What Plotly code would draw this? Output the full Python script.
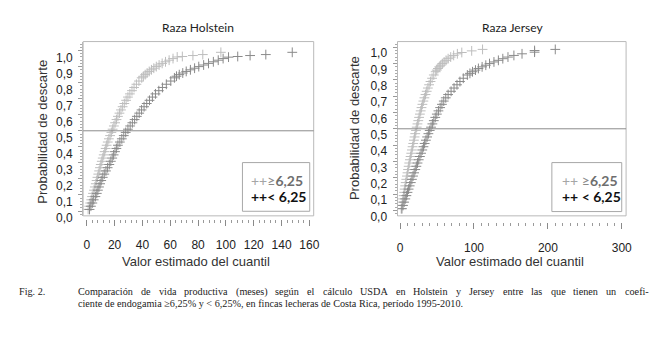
import plotly.graph_objects as go

W, H = 668, 341

# ---------------- data ----------------
# Raza Holstein, consanguinidad >= 6,25 %  (light grey)
hol_hi_x = [1.0, 1.8, 2.5, 3.2, 3.8, 4.5, 5.2, 5.8, 6.5, 7.1, 7.7, 8.3, 8.9, 9.5, 10.1,
            10.8, 11.5, 12.2, 12.9, 13.6, 14.3, 15.1, 15.9, 16.8, 17.7, 18.6, 19.5, 20.4,
            21.4, 22.4, 23.5, 24.6, 25.8, 27.0, 28.3, 29.6, 31.0, 32.5, 34.0, 35.7, 37.5,
            39.5, 40.7, 42.0, 43.4, 44.9, 46.5, 48.2, 50.0, 52.0, 54.2, 56.6, 59.2, 62.0,
            65.0, 68.7, 76.3, 83.4, 96.4]
hol_hi_y = [0.01, 0.03, 0.05, 0.07, 0.09, 0.11, 0.13, 0.15, 0.17, 0.19, 0.21, 0.23, 0.25,
            0.27, 0.29, 0.31, 0.33, 0.35, 0.37, 0.39, 0.41, 0.43, 0.45, 0.47, 0.49, 0.51,
            0.53, 0.55, 0.57, 0.59, 0.61, 0.63, 0.65, 0.67, 0.69, 0.71, 0.73, 0.75, 0.77,
            0.79, 0.81, 0.83, 0.84, 0.85, 0.86, 0.87, 0.88, 0.89, 0.90, 0.91, 0.92, 0.93,
            0.94, 0.95, 0.96, 0.963, 0.969, 0.975, 0.989]

# Raza Holstein, consanguinidad < 6,25 %  (dark grey)
hol_lo_x = [2.0, 3.0, 4.0, 5.0, 6.2, 7.2, 8.0, 8.8, 9.6, 10.4, 11.5, 12.6, 13.8, 15.0,
            16.2, 17.3, 18.3, 19.3, 20.3, 21.3, 22.4, 23.8, 25.2, 26.6, 28.0, 29.6, 31.2,
            32.8, 34.4, 36.0, 37.7, 39.4, 41.2, 43.1, 45.1, 47.2, 49.4, 51.8, 54.4, 57.2,
            60.4, 63.0, 64.5, 66.5, 69.0, 71.5, 74.5, 77.5, 80.5, 84.0, 87.5, 91.0, 94.5,
            98.0, 101.9, 108.5, 117.4, 128.7, 147.7]
hol_lo_y = [0.01, 0.03, 0.05, 0.07, 0.09, 0.11, 0.13, 0.15, 0.17, 0.19, 0.21, 0.23, 0.25,
            0.27, 0.29, 0.31, 0.33, 0.35, 0.37, 0.39, 0.41, 0.43, 0.45, 0.47, 0.49, 0.51,
            0.53, 0.55, 0.57, 0.59, 0.61, 0.63, 0.65, 0.67, 0.69, 0.71, 0.73, 0.75, 0.77,
            0.79, 0.81, 0.83, 0.84, 0.85, 0.86, 0.87, 0.88, 0.89, 0.90, 0.91, 0.92, 0.93,
            0.94, 0.95, 0.959, 0.963, 0.969, 0.975, 0.989]

# Raza Jersey, consanguinidad >= 6,25 %  (light grey)
jer_hi_x = [1.5, 2.5, 3.3, 4.0, 4.8, 5.5, 6.2, 6.9, 7.6, 8.4, 9.2, 10.0, 10.8, 11.6, 12.4,
            13.3, 14.2, 15.1, 16.0, 16.9, 17.8, 18.7, 19.6, 20.5, 21.5, 22.5, 23.5, 24.6,
            25.7, 26.8, 27.9, 29.0, 30.2, 31.5, 32.9, 34.4, 36.0, 37.6, 39.3, 41.2, 43.3,
            45.6, 48.2, 49.6, 51.2, 53.0, 55.0, 57.2, 59.6, 62.2, 65.0, 68.5, 72.5, 77.5,
            83.5, 96.9, 111.6]
jer_hi_y = [0.01, 0.03, 0.05, 0.07, 0.09, 0.11, 0.13, 0.15, 0.17, 0.19, 0.21, 0.23, 0.25,
            0.27, 0.29, 0.31, 0.33, 0.35, 0.37, 0.39, 0.41, 0.43, 0.45, 0.47, 0.49, 0.51,
            0.53, 0.55, 0.57, 0.59, 0.61, 0.63, 0.65, 0.67, 0.69, 0.71, 0.73, 0.75, 0.77,
            0.79, 0.81, 0.83, 0.85, 0.86, 0.87, 0.88, 0.89, 0.90, 0.91, 0.92, 0.93, 0.94,
            0.95, 0.96, 0.968, 0.978, 0.987]

# Raza Jersey, consanguinidad < 6,25 %  (dark grey)
jer_lo_x = [2.5, 4.0, 5.5, 7.0, 8.5, 10.0, 11.5, 13.0, 14.5, 16.0, 17.5, 19.0, 20.5, 22.0,
            23.6, 25.2, 26.8, 28.4, 30.0, 31.6, 33.2, 34.9, 36.6, 38.3, 40.1, 41.9, 43.7,
            45.6, 47.6, 49.7, 51.9, 54.2, 56.6, 59.1, 61.8, 65.0, 69.0, 73.0, 77.0, 81.0,
            85.5, 91.0, 94.5, 98.0, 102.0, 106.0, 111.0, 116.0, 121.0, 127.0, 133.0, 139.0,
            146.0, 154.0, 165.0, 182.0, 182.0, 210.0]
jer_lo_y = [0.01, 0.03, 0.05, 0.07, 0.09, 0.11, 0.13, 0.15, 0.17, 0.19, 0.21, 0.23, 0.25,
            0.27, 0.29, 0.31, 0.33, 0.35, 0.37, 0.39, 0.41, 0.43, 0.45, 0.47, 0.49, 0.51,
            0.53, 0.55, 0.57, 0.59, 0.61, 0.63, 0.65, 0.67, 0.69, 0.71, 0.73, 0.75, 0.77,
            0.79, 0.81, 0.83, 0.84, 0.85, 0.86, 0.87, 0.88, 0.89, 0.90, 0.91, 0.92, 0.93,
            0.94, 0.95, 0.96, 0.97, 0.98, 0.987]

cut_value = 0.5
titles = ["Raza Holstein", "Raza Jersey"]
x_title = "Valor estimado del cuantil"
y_title = "Probabilidad de descarte"
left_xticks = [0, 20, 40, 60, 80, 100, 120, 140, 160]
right_xticks = [0, 100, 200, 300]
y_ticks = [0.0, 0.1, 0.2, 0.3, 0.4, 0.5, 0.6, 0.7, 0.8, 0.9, 1.0]
caption_label = "Fig. 2."
caption_line1 = ("Comparación de vida productiva (meses) según el cálculo USDA en Holstein "
                 "y Jersey entre las que tienen un coefi-")
caption_line2 = ("ciente de endogamia ≥6,25% y < 6,25%, en fincas lecheras de Costa Rica, "
                 "período 1995-2010.")

# ---------------- styling ----------------
LIGHT = "#bdbdbd"
DARK = "#8a8a8a"
FRAME = "#b9b9b9"
SANS = "Liberation Sans, Arial, sans-serif"
CAL = "Lato, Open Sans, sans-serif"
SERIF = "Liberation Serif, Times New Roman, serif"
CAP_SIZE = 10.2


def px(x):
    return x / W


def py(y):
    return 1 - y / H


# approximate Times advance widths (per 1000 em) used to justify caption line 1
_TW = dict(zip("abcdefghijklmnopqrstuvwxyz",
               [444, 500, 444, 500, 444, 333, 500, 500, 278, 278, 500, 278, 778, 500, 500,
                500, 500, 333, 389, 278, 500, 500, 722, 500, 500, 444]))
_TW.update({"á": 444, "é": 444, "í": 278, "ó": 500, "ú": 500, "C": 667, "D": 722,
            "H": 722, "J": 389, "S": 556, "U": 722, "A": 722, "(": 333, ")": 333,
            "-": 333, ",": 250, ".": 250, " ": 250})


def text_w(s, size):
    return sum(_TW.get(c, 500) for c in s) * size / 1000.0


panels = [
    dict(xd=[83, 316], yd=[42.7, 221.7], xr=[-2.6, 163.1], yr=[-0.030, 1.056],
         xpos=225, ticks=left_xticks, minor=4, title_x=199.3, ytit_x=41.7, ytit_y=135,
         leg=[244, 167, 312, 217], leg_x=250.5, lshift=7),
    dict(xd=[400.7, 631.7], yd=[42.7, 221.7], xr=[-3.5, 305.8], yr=[-0.034, 1.035],
         xpos=228, ticks=right_xticks, minor=10, title_x=516.7, ytit_x=357.3, ytit_y=132,
         leg=[556.7, 167, 627.3, 217.3], leg_x=564.5, lshift=6),
]

series = [((hol_hi_x, hol_hi_y), (hol_lo_x, hol_lo_y)),
          ((jer_hi_x, jer_hi_y), (jer_lo_x, jer_lo_y))]

fig = go.Figure()
shapes = []
annotations = []
layout_axes = {}

for i, (p, (hi, lo)) in enumerate(zip(panels, series)):
    sfx = "" if i == 0 else str(i + 1)
    xa, ya = "x" + sfx, "y" + sfx
    for (xs, ys), col in ((hi, LIGHT), (lo, DARK)):
        fig.add_trace(go.Scatter(
            x=xs, y=ys, xaxis=xa, yaxis=ya, mode="markers", showlegend=False,
            marker=dict(symbol="cross-thin", size=7, color=col,
                        line=dict(color=col, width=1)),
            hoverinfo="skip"))

    layout_axes["xaxis" + sfx] = dict(
        domain=[px(p["xd"][0]), px(p["xd"][1])], range=p["xr"], anchor="free",
        position=py(p["xpos"]), showline=False, showgrid=False, zeroline=False,
        tickmode="array", tickvals=p["ticks"], ticks="outside", ticklen=6,
        tickcolor="#8a8a8a", tickwidth=1, ticklabelstandoff=9,
        tickfont=dict(family=SANS, size=12, color="#222"),
        minor=dict(dtick=p["minor"], ticks="outside", ticklen=3, tickcolor="#9a9a9a",
                   showgrid=False),
    )
    layout_axes["yaxis" + sfx] = dict(
        domain=[py(p["yd"][1]), py(p["yd"][0])], range=p["yr"], anchor=xa,
        showline=True, linecolor=FRAME, linewidth=1, showgrid=False, zeroline=False,
        tickmode="array", tickvals=y_ticks, tickformat=".1f", ticks="outside",
        ticklen=4, tickcolor="#9a9a9a", ticklabelshift=p["lshift"], ticklabelstandoff=3,
        tickfont=dict(family=SANS, size=12, color="#222"),
        minor=dict(dtick=0.02, ticks="outside", ticklen=2, tickcolor="#aaaaaa",
                   showgrid=False),
    )
    # frame
    shapes.append(dict(type="rect", xref="paper", yref="paper",
                       x0=px(p["xd"][0]), x1=px(p["xd"][1]),
                       y0=py(p["yd"][1]), y1=py(p["yd"][0]),
                       line=dict(color=FRAME, width=1), layer="below"))
    # reference line at 0.5
    shapes.append(dict(type="line", xref=xa + " domain", yref=ya, x0=0, x1=1,
                       y0=cut_value, y1=cut_value, line=dict(color="#8c8c8c", width=1)))
    # legend box
    l = p["leg"]
    shapes.append(dict(type="rect", xref="paper", yref="paper",
                       x0=px(l[0]), x1=px(l[2]), y0=py(l[3]), y1=py(l[1]),
                       line=dict(color="#a8a8a8", width=1)))
    annotations.append(dict(
        xref="paper", yref="paper", x=px(p["leg_x"]), y=py(185), xanchor="left",
        yanchor="middle", showarrow=False,
        text=('<span style="color:#a6a6a6">++</span><span style="color:#8a8a8a">'
              + ("≥" if i == 0 else " ≥") + '</span><b style="color:#6e6e6e">6,25</b>'),
        font=dict(family=CAL, size=14, color="#6e6e6e")))
    annotations.append(dict(
        xref="paper", yref="paper", x=px(p["leg_x"]), y=py(202), xanchor="left",
        yanchor="middle", showarrow=False,
        text="<b>++" + ("&lt; 6,25" if i == 0 else " &lt; 6,25") + "</b>",
        font=dict(family=CAL, size=14, color="#111")))
    # titles
    annotations.append(dict(xref="paper", yref="paper", x=px(p["title_x"]), y=py(28.5),
                            xanchor="center", yanchor="middle", showarrow=False,
                            text=titles[i], font=dict(family=CAL, size=12, color="#222")))
    annotations.append(dict(xref="paper", yref="paper", x=px((p["xd"][0] + p["xd"][1]) / 2 - 2),
                            y=py(268.5), xanchor="center", yanchor="middle", showarrow=False,
                            text=x_title, font=dict(family=SANS, size=13, color="#333")))
    annotations.append(dict(xref="paper", yref="paper", x=px(p["ytit_x"]), y=py(p["ytit_y"]),
                            xanchor="center", yanchor="middle", showarrow=False, textangle=-90,
                            text=y_title, font=dict(family=SANS, size=13, color="#333")))

# caption (line 1 justified word by word between x=77 and x=653)
cap_font = dict(family=SERIF, size=CAP_SIZE, color="#222")
Y1, Y2 = 299.5, 311.5
annotations.append(dict(xref="paper", yref="paper", x=px(17), y=py(Y1), xanchor="left",
                        yanchor="middle", showarrow=False, text=caption_label,
                        font=cap_font, xshift=-1))
words = caption_line1.split(" ")
L0, L1 = 77.0, 653.0
widths = [text_w(w, CAP_SIZE) for w in words]
gap = (L1 - L0 - sum(widths)) / (len(words) - 1)
xcur = L0
for w, wd in zip(words, widths):
    annotations.append(dict(xref="paper", yref="paper", x=px(xcur), y=py(Y1),
                            xanchor="left", yanchor="middle", showarrow=False, text=w,
                            font=cap_font, borderpad=0))
    xcur += wd + gap
annotations.append(dict(xref="paper", yref="paper", x=px(L0), y=py(Y2), xanchor="left",
                        yanchor="middle", showarrow=False,
                        text=caption_line2.replace("<", "&lt;"), font=cap_font,
                        borderpad=0))

fig.update_layout(
    width=W, height=H, margin=dict(l=0, r=0, t=0, b=0),
    paper_bgcolor="white", plot_bgcolor="white", separators=",.",
    shapes=shapes, annotations=annotations, **layout_axes)

fig.write_html("out.html", config={"displayModeBar": False},
               post_script="document.body.style.margin='0';document.body.style.padding='0';")
